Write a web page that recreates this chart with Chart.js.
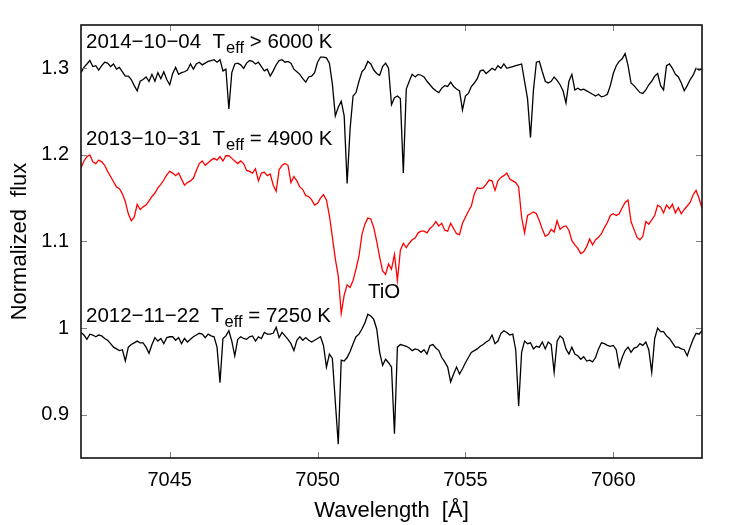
<!DOCTYPE html>
<html>
<head>
<meta charset="utf-8">
<script src="https://cdn.jsdelivr.net/npm/chart.js@4.4.1/dist/chart.umd.min.js"></script>
<style>
  html, body { margin: 0; padding: 0; background: #fff; }
  #wrap { width: 750px; height: 525px; }
</style>
</head>
<body>
<div id="wrap"><canvas id="spectra" width="750" height="525"></canvas></div>
<script>
// sample grid: 7042.0 .. 7063.0 A, every 0.1 A
const waveStart = 7042.0;
const waveStep = 0.1;
const wavelengths = Array.from({ length: 211 }, (_, i) => +(waveStart + i * waveStep).toFixed(1));

// 2014-10-04 (Teff > 6000 K)
const flux2014 = [
  1.295, 1.301, 1.305, 1.309, 1.302, 1.303, 1.298, 1.303, 1.307, 1.306,
  1.302, 1.305, 1.299, 1.301, 1.296, 1.291, 1.291, 1.287, 1.280, 1.274,
  1.285, 1.287, 1.290, 1.285, 1.293, 1.285, 1.295, 1.288, 1.296, 1.287,
  1.281, 1.294, 1.301, 1.293, 1.295, 1.296, 1.298, 1.305, 1.299, 1.305,
  1.307, 1.304, 1.306, 1.308, 1.309, 1.310, 1.307, 1.310, 1.297, 1.299,
  1.253, 1.295, 1.305, 1.306, 1.304, 1.300, 1.306, 1.309, 1.308, 1.305,
  1.307, 1.302, 1.297, 1.299, 1.291, 1.297, 1.304, 1.309, 1.310, 1.307,
  1.308, 1.306, 1.299, 1.296, 1.293, 1.288, 1.284, 1.290, 1.291, 1.295,
  1.307, 1.313, 1.313, 1.312, 1.306, 1.282, 1.245, 1.255, 1.262, 1.245,
  1.167, 1.230, 1.268, 1.272, 1.285, 1.296, 1.300, 1.308, 1.305, 1.298,
  1.294, 1.292, 1.302, 1.306, 1.300, 1.258, 1.266, 1.268, 1.265, 1.179,
  1.276, 1.285, 1.293, 1.290, 1.293, 1.292, 1.290, 1.285, 1.281, 1.277,
  1.274, 1.272, 1.277, 1.280, 1.279, 1.284, 1.279, 1.276, 1.274, 1.252,
  1.268, 1.271, 1.279, 1.283, 1.288, 1.297, 1.298, 1.294, 1.297, 1.300,
  1.298, 1.303, 1.300, 1.305, 1.300, 1.301, 1.302, 1.303, 1.304, 1.305,
  1.285, 1.265, 1.220, 1.275, 1.307, 1.308, 1.296, 1.285, 1.283, 1.285,
  1.290, 1.286, 1.281, 1.274, 1.260, 1.285, 1.293, 1.275, 1.277, 1.275,
  1.276, 1.274, 1.272, 1.270, 1.268, 1.270, 1.267, 1.268, 1.270, 1.280,
  1.294, 1.303, 1.308, 1.311, 1.317, 1.303, 1.283, 1.280, 1.276, 1.272,
  1.271, 1.275, 1.281, 1.285, 1.291, 1.294, 1.280, 1.275, 1.303, 1.305,
  1.300, 1.293, 1.290, 1.283, 1.274, 1.280, 1.287, 1.292, 1.300, 1.298, 1.299
];

// 2013-10-31 (Teff = 4900 K), TiO band
const flux2013 = [
  1.185, 1.193, 1.198, 1.200, 1.192, 1.190, 1.194, 1.192, 1.188, 1.181,
  1.175, 1.169, 1.163, 1.161, 1.155, 1.146, 1.132, 1.124, 1.128, 1.143,
  1.137, 1.140, 1.142, 1.147, 1.152, 1.156, 1.162, 1.166, 1.171, 1.177,
  1.181, 1.179, 1.176, 1.179, 1.172, 1.165, 1.168, 1.170, 1.173, 1.182,
  1.190, 1.193, 1.188, 1.191, 1.194, 1.196, 1.194, 1.198, 1.193, 1.199,
  1.199, 1.196, 1.193, 1.190, 1.193, 1.190, 1.182, 1.181, 1.179, 1.184,
  1.170, 1.179, 1.180, 1.176, 1.178, 1.165, 1.158, 1.183, 1.188, 1.190,
  1.188, 1.168, 1.175, 1.170, 1.163, 1.160, 1.153, 1.152, 1.148, 1.142,
  1.144, 1.150, 1.154, 1.148, 1.130, 1.105, 1.080, 1.060, 1.017, 1.038,
  1.050, 1.047, 1.055, 1.068, 1.083, 1.108, 1.120, 1.127, 1.126, 1.116,
  1.100, 1.082, 1.066, 1.062, 1.074, 1.068, 1.085, 1.055, 1.090, 1.098,
  1.093, 1.098, 1.102, 1.104, 1.110, 1.112, 1.112, 1.110, 1.115, 1.118,
  1.123, 1.118, 1.121, 1.113, 1.112, 1.121, 1.115, 1.109, 1.108, 1.121,
  1.128, 1.135, 1.141, 1.155, 1.162, 1.161, 1.162, 1.166, 1.171, 1.170,
  1.159, 1.170, 1.174, 1.176, 1.179, 1.172, 1.170, 1.168, 1.163, 1.128,
  1.110, 1.130, 1.132, 1.134, 1.132, 1.124, 1.114, 1.106, 1.108, 1.114,
  1.111, 1.124, 1.114, 1.117, 1.118, 1.113, 1.101, 1.096, 1.092, 1.086,
  1.088, 1.094, 1.103, 1.096, 1.102, 1.105, 1.109, 1.116, 1.122, 1.130,
  1.132, 1.130, 1.132, 1.139, 1.145, 1.148, 1.123, 1.114, 1.105, 1.102,
  1.106, 1.123, 1.120, 1.125, 1.130, 1.142, 1.140, 1.133, 1.142, 1.138,
  1.143, 1.133, 1.139, 1.132, 1.137, 1.141, 1.145, 1.154, 1.159, 1.150, 1.138
];

// 2012-11-22 (Teff = 7250 K)
const flux2012 = [
  0.995, 0.992, 0.987, 0.993, 0.992, 0.990, 0.992, 0.991, 0.988, 0.986,
  0.982, 0.978, 0.976, 0.974, 0.975, 0.962, 0.978, 0.981, 0.983, 0.985,
  0.983, 0.983, 0.978, 0.971, 0.981, 0.989, 0.985, 0.988, 0.982, 0.989,
  0.990, 0.990, 0.986, 0.989, 0.982, 0.988, 0.984, 0.987, 0.990, 0.992,
  0.994, 0.993, 0.989, 0.993, 0.991, 0.990, 0.978, 0.937, 0.988, 0.991,
  0.997, 0.985, 0.968, 0.987, 0.990, 0.988, 0.987, 0.990, 0.991, 0.985,
  0.990, 0.988, 0.995, 0.993, 0.993, 0.994, 1.001, 0.989, 0.995, 0.991,
  0.987, 0.982, 0.974, 0.986, 0.990, 0.986, 0.989, 0.986, 0.984, 0.986,
  0.988, 0.990, 0.980, 0.955, 0.970, 0.965, 0.915, 0.866, 0.963, 0.962,
  0.966, 0.973, 0.982, 0.990, 0.993, 0.999, 1.006, 1.016, 1.014, 1.010,
  0.999, 0.972, 0.957, 0.964, 0.960, 0.955, 0.878, 0.978, 0.981, 0.980,
  0.979, 0.977, 0.974, 0.976, 0.975, 0.972, 0.975, 0.970, 0.980, 0.981,
  0.977, 0.974, 0.966, 0.961, 0.955, 0.938, 0.947, 0.955, 0.947, 0.953,
  0.960, 0.966, 0.972, 0.974, 0.976, 0.979, 0.981, 0.984, 0.986, 0.992,
  0.982, 0.985, 0.994, 0.997, 0.995, 0.992, 0.993, 0.975, 0.910, 0.972,
  0.985, 0.982, 0.983, 0.976, 0.979, 0.978, 0.984, 0.976, 0.984, 0.981,
  0.949, 0.985, 0.991, 0.988, 0.976, 0.970, 0.978, 0.970, 0.968, 0.964,
  0.967, 0.962, 0.963, 0.961, 0.966, 0.976, 0.983, 0.982, 0.980, 0.979,
  0.980, 0.975, 0.955, 0.966, 0.974, 0.978, 0.972, 0.977, 0.978, 0.982,
  0.980, 0.984, 0.975, 0.949, 0.988, 1.000, 0.996, 0.996, 0.991, 0.988,
  0.983, 0.978, 0.978, 0.976, 0.975, 0.968, 0.978, 0.987, 0.994, 0.993, 0.997
];

const xTicks = [7045, 7050, 7055, 7060];
const yTicks = [0.9, 1.0, 1.1, 1.2, 1.3];
const yTickLabels = ['0.9', '1', '1.1', '1.2', '1.3'];

// labels written inside the plot
const epochLabels = ['2014−10−04', '2013−10−31', '2012−11−22'];
const teffLabels = ['> 6000 K', '= 4900 K', '= 7250 K'];
const bandLabel = 'TiO';

const FONT = '"Liberation Sans", Arial, Helvetica, sans-serif';

function toPoints(flux) {
    return flux.map((f, i) => ({ x: wavelengths[i], y: f }));
}

// frame with inward ticks on all four sides + the text labels
const framePlugin = {
    id: 'frame',
    afterDraw(chart) {
        const { ctx, chartArea: a, scales } = chart;
        ctx.save();
        ctx.strokeStyle = '#808080';
        ctx.lineWidth = 1;
        const tl = 6;
        xTicks.forEach(v => {
            const px = Math.round(scales.x.getPixelForValue(v)) + 0.5;
            ctx.beginPath();
            ctx.moveTo(px, a.bottom); ctx.lineTo(px, a.bottom - tl);
            ctx.moveTo(px, a.top); ctx.lineTo(px, a.top + tl);
            ctx.stroke();
        });
        yTicks.forEach(v => {
            const py = Math.round(scales.y.getPixelForValue(v)) + 0.5;
            ctx.beginPath();
            ctx.moveTo(a.left, py); ctx.lineTo(a.left + tl, py);
            ctx.moveTo(a.right, py); ctx.lineTo(a.right - tl, py);
            ctx.stroke();
        });
        ctx.strokeStyle = '#111';
        ctx.lineWidth = 1.6;
        ctx.strokeRect(a.left, a.top, a.right - a.left, a.bottom - a.top);

        // "date  T_eff ..." labels
        const baselines = [48, 145, 322];
        ctx.fillStyle = '#000';
        ctx.textBaseline = 'alphabetic';
        ctx.textAlign = 'left';
        epochLabels.forEach((d, i) => {
            let x = a.left + 5;
            const y = baselines[i];
            ctx.font = '20.5px ' + FONT;
            const head = d + '  T';
            ctx.fillText(head, x, y);
            x += ctx.measureText(head).width + 1;
            ctx.font = '16.5px ' + FONT;
            ctx.fillText('eff', x, y + 5);
            x += ctx.measureText('eff').width;
            ctx.font = '20.5px ' + FONT;
            ctx.fillText(' ' + teffLabels[i], x, y);
        });
        ctx.font = '20.5px ' + FONT;
        ctx.fillText(bandLabel, 368, 298);
        ctx.restore();
    }
};

const lineStyle = (color) => ({
    borderColor: color,
    borderWidth: 1.3,
    pointRadius: 0,
    tension: 0,
    fill: false
});

new Chart(document.getElementById('spectra'), {
    type: 'line',
    data: {
        datasets: [
            { label: '2014-10-04', data: toPoints(flux2014), ...lineStyle('#000000') },
            { label: '2013-10-31', data: toPoints(flux2013), ...lineStyle('#ff0000') },
            { label: '2012-11-22', data: toPoints(flux2012), ...lineStyle('#000000') }
        ]
    },
    options: {
        responsive: false,
        animation: false,
        layout: { padding: { top: 25, right: 48, left: 0, bottom: 0 } },
        plugins: { legend: { display: false }, tooltip: { enabled: false } },
        scales: {
            x: {
                type: 'linear',
                min: 7042,
                max: 7063,
                afterBuildTicks: s => { s.ticks = xTicks.map(v => ({ value: v })); },
                afterFit: s => { s.height = 67; },
                grid: { display: false, drawTicks: false },
                border: { display: false },
                ticks: {
                    padding: 10,
                    maxRotation: 0,
                    color: '#000',
                    font: { family: FONT, size: 20 },
                    callback: v => String(v)
                },
                title: {
                    display: true,
                    text: 'Wavelength  [Å]',
                    color: '#000',
                    font: { family: FONT, size: 22 },
                    padding: { top: 0, bottom: 1 }
                }
            },
            y: {
                min: 0.85,
                max: 1.35,
                afterBuildTicks: s => { s.ticks = yTicks.map(v => ({ value: v })); },
                afterFit: s => { s.width = 81; },
                grid: { display: false, drawTicks: false },
                border: { display: false },
                ticks: {
                    padding: 12,
                    color: '#000',
                    font: { family: FONT, size: 20 },
                    callback: (v, i) => yTickLabels[i]
                },
                title: {
                    display: true,
                    text: 'Normalized  flux',
                    color: '#000',
                    font: { family: FONT, size: 22 },
                    padding: { top: 7, bottom: 0 }
                }
            }
        }
    },
    plugins: [framePlugin]
});
</script>
</body>
</html>
